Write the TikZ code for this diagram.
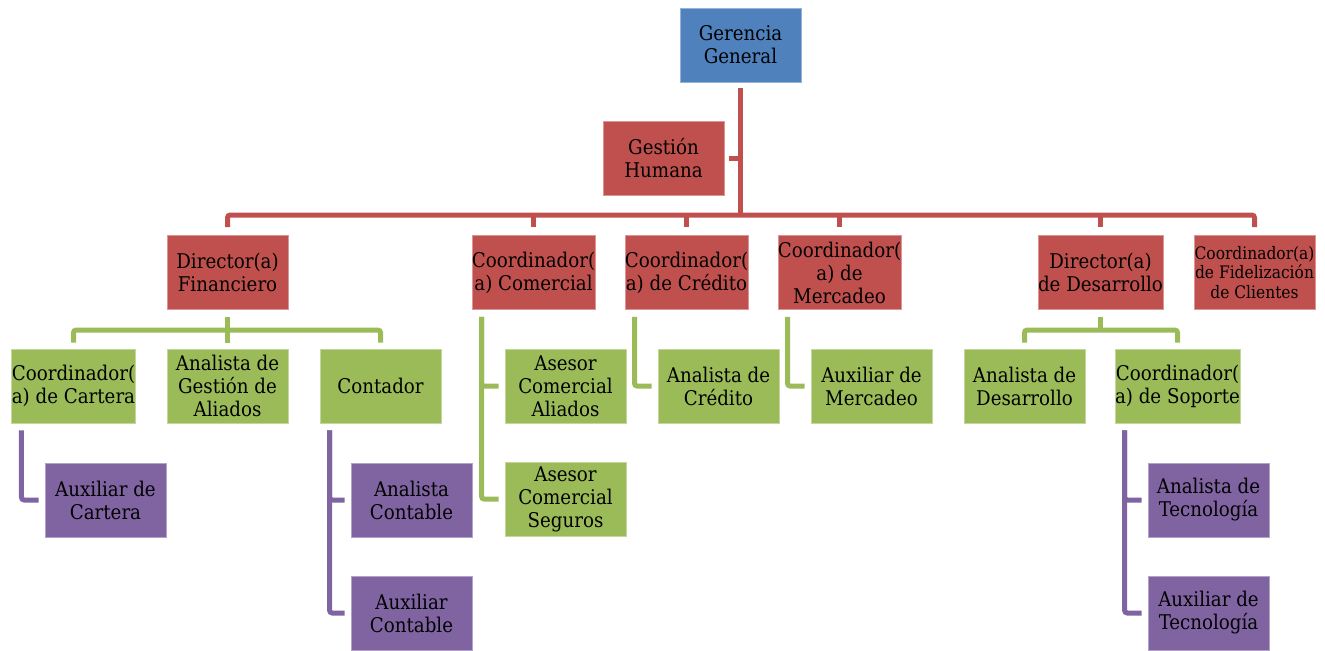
\documentclass[tikz,border=0pt]{standalone}
\usepackage{fontspec}
\setmainfont{DejaVu Serif Condensed}
\usetikzlibrary{calc}
\definecolor{cblue}{HTML}{4F81BD}
\definecolor{cred}{HTML}{C0504D}
\definecolor{cgreen}{HTML}{9BBB59}
\definecolor{cpurp}{HTML}{8064A2}
\tikzset{
  box/.style={rectangle, minimum width=90.75pt, minimum height=55.5pt, inner sep=0pt,
    align=center, text=black, line width=0.6pt, font=\fontsize{15.2}{17.25}\selectfont},
  bluebox/.style={box, fill=cblue, draw=cblue!60!white},
  redbox/.style={box, fill=cred, draw=cred!60!white},
  greenbox/.style={box, fill=cgreen, draw=cgreen!60!white},
  purpbox/.style={box, fill=cpurp, draw=cpurp!60!white},
  redln/.style={draw=cred, line width=3.75pt, rounded corners=2pt},
  grnln/.style={draw=cgreen, line width=3.75pt, rounded corners=2pt},
  purln/.style={draw=cpurp, line width=3.75pt, rounded corners=2pt},
}
\begin{document}
\begin{tikzpicture}[x=0.75pt, y=-0.75pt]
\useasboundingbox (0,0) rectangle (1325,650);
% level 0/1
\node[bluebox] (gg) at (740.5,45) {Gerencia\\General};
\node[redbox] (gh) at (663.5,158.5) {Gestión\\Humana};
% level 2
\node[redbox] (df) at (227.5,272.5) {Director(a)\\Financiero};
\node[redbox] (cc) at (533.5,272.5) {Coordinador(\\a) Comercial};
\node[redbox] (ccr) at (686.5,272.5) {Coordinador(\\a) de Crédito};
\node[redbox] (cm) at (839.5,272.5) {Coordinador(\\a) de\\Mercadeo};
\node[redbox] (dd) at (1100.5,272.5) {Director(a)\\de Desarrollo};
\node[redbox, font=\fontsize{12.9}{14.8}\selectfont] (cf) at (1254.5,272.5) {Coordinador(a)\\de Fidelización\\de Clientes};
% level 3
\node[greenbox] (ccart) at (73.5,386) {Coordinador(\\a) de Cartera};
\node[greenbox] (aga) at (227.5,386) {Analista de\\Gestión de\\Aliados};
\node[greenbox] (cont) at (380.5,386) {Contador};
\node[greenbox] (aca) at (565.5,386) {Asesor\\Comercial\\Aliados};
\node[greenbox] (acs) at (565.5,499) {Asesor\\Comercial\\Seguros};
\node[greenbox] (acr) at (718.5,386) {Analista de\\Crédito};
\node[greenbox] (am) at (871.5,386) {Auxiliar de\\Mercadeo};
\node[greenbox] (ad) at (1024.5,386) {Analista de\\Desarrollo};
\node[greenbox] (cs) at (1177.5,386) {Coordinador(\\a) de Soporte};
% level 4
\node[purpbox] (axc) at (105.5,500) {Auxiliar de\\Cartera};
\node[purpbox] (anc) at (411.5,500) {Analista\\Contable};
\node[purpbox] (axco) at (411.5,613) {Auxiliar\\Contable};
\node[purpbox] (at) at (1208.5,500) {Analista de\\Tecnología};
\node[purpbox] (axt) at (1208.5,613) {Auxiliar de\\Tecnología};

% red connectors
\coordinate (busL) at (df.north |- 0,215);
\coordinate (busR) at (cf.north |- 0,215);
\draw[redln] ($(gg.south)+(0,6)$) -- (gg.south |- busL);
\draw[redln, rounded corners=0pt] ($(gh.east)+(5,0)$) -- (gg.south |- gh.east);
\draw[redln] ($(df.north)+(0,-8)$) -- (busL) -- (busR) -- ($(cf.north)+(0,-8)$);
\foreach \n in {cc,ccr,cm,dd}{
  \draw[redln] ($(\n.north)+(0,-8)$) -- (\n.north |- busL);
}
% green connectors: Director Financiero
\coordinate (gbus1) at (df.south |- 0,330);
\draw[grnln] ($(df.south)+(0,7)$) -- (gbus1);
\draw[grnln] ($(ccart.north)+(0,-6)$) |- (gbus1) -| ($(cont.north)+(0,-6)$);
\draw[grnln] (gbus1) -- ($(aga.north)+(0,-6)$);
% Coordinador Comercial
\draw[grnln] ($(cc.south west)+(10,7)$) |- ($(aca.west)+(-6,0)$);
\draw[grnln] ($(cc.south west)+(10,7)$) |- ($(acs.west)+(-6,0)$);
% Credito
\draw[grnln] ($(ccr.south west)+(10,7)$) |- ($(acr.west)+(-6,0)$);
% Mercadeo
\draw[grnln] ($(cm.south west)+(10,7)$) |- ($(am.west)+(-6,0)$);
% Director Desarrollo
\coordinate (gbus2) at (dd.south |- 0,330);
\draw[grnln] ($(dd.south)+(0,7)$) -- (gbus2);
\draw[grnln] ($(ad.north)+(0,-6)$) |- (gbus2) -| ($(cs.north)+(0,-6)$);
% purple connectors
\draw[purln] ($(ccart.south west)+(10,7)$) |- ($(axc.west)+(-6,0)$);
\draw[purln] ($(cont.south west)+(10,7)$) |- ($(anc.west)+(-6,0)$);
\draw[purln] ($(cont.south west)+(10,7)$) |- ($(axco.west)+(-6,0)$);
\draw[purln] ($(cs.south west)+(10,7)$) |- ($(at.west)+(-6,0)$);
\draw[purln] ($(cs.south west)+(10,7)$) |- ($(axt.west)+(-6,0)$);
\end{tikzpicture}
\end{document}
